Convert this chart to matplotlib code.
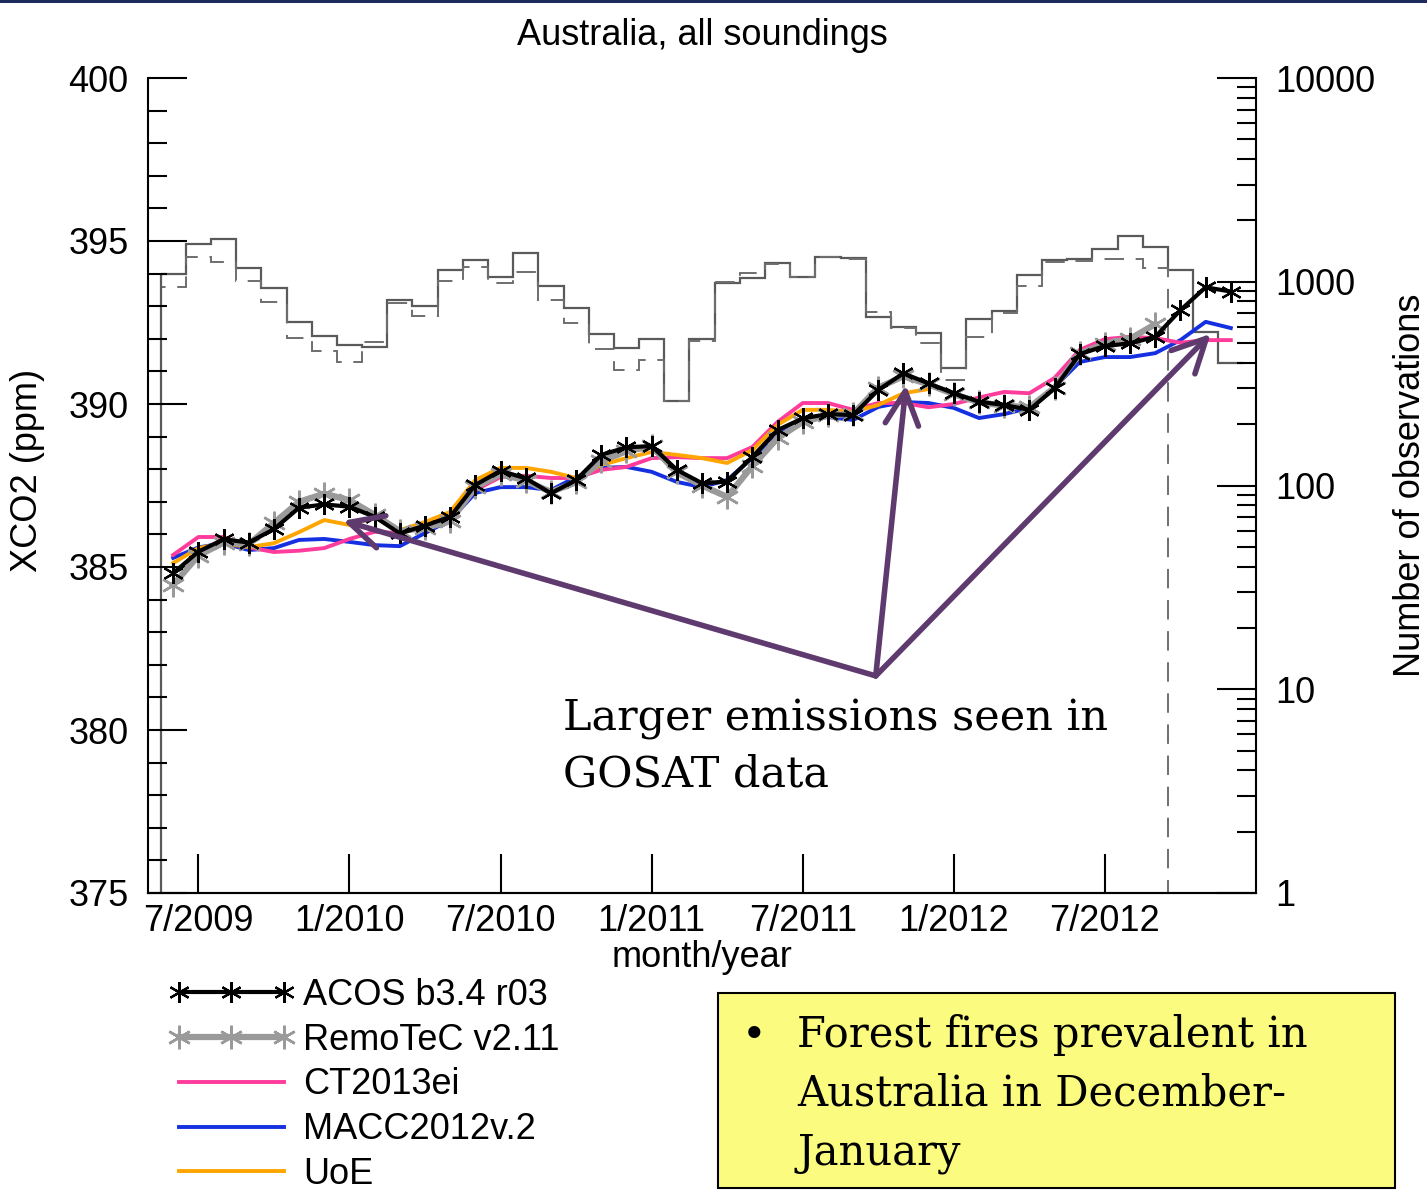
import matplotlib
matplotlib.use("Agg")
import matplotlib.pyplot as plt
from matplotlib.patches import Rectangle
from matplotlib.ticker import MultipleLocator, FixedLocator, FuncFormatter, LogLocator
import numpy as np

plt.rcParams['font.family'] = ['Liberation Sans', 'DejaVu Sans']

# months counted from Jan 2009 (6 = 7/2009)
months = np.arange(5, 48)

acos = [384.81, 385.47, 385.85, 385.75, 386.16, 386.82, 386.92, 386.85, 386.54, 386.03,
        386.27, 386.54, 387.52, 387.95, 387.72, 387.26, 387.67, 388.44, 388.67, 388.71,
        387.98, 387.57, 387.62, 388.38, 389.20, 389.56, 389.69, 389.66, 390.43, 390.94,
        390.63, 390.33, 390.07, 389.97, 389.82, 390.48, 391.53, 391.78, 391.86, 392.06,
        392.88, 393.58, 393.45]
remotec = [384.45, 385.35, 385.75, 385.70, 386.35, 387.00, 387.25, 387.05, 386.60, 386.10,
           386.20, 386.40, 387.45, 387.85, 387.65, 387.30, 387.60, 388.25, 388.55, 388.70,
           387.90, 387.50, 387.15, 388.10, 388.95, 389.45, 389.65, 389.70, 390.50, 390.85,
           390.60, 390.30, 390.05, 389.95, 389.90, 390.50, 391.55, 391.85, 392.00, 392.45]
ct2013 = [385.37, 385.92, 385.92, 385.60, 385.46, 385.50, 385.58, 385.86, 386.08, 386.04,
          386.35, 386.60, 387.36, 387.76, 387.80, 387.73, 387.73, 387.98, 388.07, 388.34,
          388.37, 388.34, 388.34, 388.68, 389.45, 390.03, 390.03, 389.82, 390.03, 390.03,
          389.90, 390.00, 390.20, 390.37, 390.33, 390.80, 391.66, 391.99, 392.06, 392.02,
          391.88, 391.96, 391.96]
macc = [385.28, 385.60, 385.73, 385.52, 385.58, 385.83, 385.86, 385.77, 385.67, 385.64,
        386.04, 386.44, 387.27, 387.45, 387.45, 387.36, 387.76, 388.04, 388.07, 387.92,
        387.61, 387.45, 387.67, 388.34, 389.05, 389.51, 389.60, 389.51, 389.91, 390.06,
        390.03, 389.88, 389.57, 389.69, 389.88, 390.52, 391.29, 391.44, 391.44, 391.56,
        391.96, 392.52, 392.33]
uoe = [385.12, 385.58, 385.73, 385.61, 385.73, 386.07, 386.44, 386.29, 386.53, 386.13,
       386.38, 386.69, 387.67, 388.04, 388.04, 387.92, 387.73, 388.13, 388.34, 388.53,
       388.44, 388.34, 388.19, 388.59, 389.36, 389.82, 389.82, 389.76, 389.97, 390.33,
       390.46]

# number of observations per month (right axis)
n_obs_solid = [1090, 1530, 1630, 1165, 935, 637, 542, 489, 477, 813,
               762, 1142, 1279, 1059, 1378, 953, 745, 552, 471, 524,
               260, 521, 988, 1040, 1233, 1059, 1327, 1312, 673, 601,
               562, 376, 653, 715, 1079, 1279, 1290, 1443, 1680, 1486,
               1142, 569, 397]
n_obs_dashed = [946, 1327, 1253, 1011, 792, 527, 457, 404, 508, 783,
                679, 1011, 1175, 982, 1119, 813, 629, 466, 369, 413,
                260, 510, 1000, 1110, 1222, 1058, 1327, 1295, 708, 595,
                498, 330, 534, 702, 953, 1253, 1270, 1295, 1300, 1165]

tick_months = [6, 12, 18, 24, 30, 36, 42]
tick_labels = ['7/2009', '1/2010', '7/2010', '1/2011', '7/2011', '1/2012', '7/2012']

W, H = 1427, 1192
fig = plt.figure(figsize=(W / 100, H / 100), dpi=100)
ax = fig.add_axes([148 / W, 1 - 893 / H, (1256 - 148) / W, (893 - 78) / H])
ax2 = ax.twinx()
ax.set_zorder(ax2.get_zorder() + 1)
ax.patch.set_visible(False)

# histograms of the number of observations
edges_s = np.append(months - 0.5, months[-1] + 0.5)
m_d = months[:len(n_obs_dashed)]
edges_d = np.append(m_d - 0.5, m_d[-1] + 0.5)
ax2.stairs(n_obs_solid, edges_s, baseline=None, color='#5a5a5a', lw=1.6)
ax2.vlines(edges_s[0], 1, n_obs_solid[0], color='#5a5a5a', lw=1.6)
ax2.stairs(n_obs_dashed, edges_d, baseline=1, color='#6e6e6e', lw=1.4,
           linestyle=(0, (10, 6)))
ax2.set_yscale('log')
ax2.set_ylim(1, 10000)

star = (6, 2, 0)
ax.plot(months, macc, color='#1530e0', lw=2.8, label='MACC2012v.2', zorder=2)
ax.plot(months, ct2013, color='#ff3c9c', lw=2.8, label='CT2013ei', zorder=2)
ax.plot(months[:len(uoe)], uoe, color='#ffa500', lw=2.8, label='UoE', zorder=2)
ax.plot(months[:len(remotec)], remotec, color='#9a9a9a', lw=4.5, marker=star, ms=17,
        mew=1.8, mec='#9a9a9a', label='RemoTeC v2.11', zorder=3)
ax.plot(months, acos, color='black', lw=3, marker=star, ms=15, mew=1.6,
        label='ACOS b3.4 r03', zorder=4)

ax.set_xlim(4, 48)
ax.set_ylim(375, 400)
ax.yaxis.set_major_locator(MultipleLocator(5))
ax.yaxis.set_minor_locator(MultipleLocator(1))
ax.xaxis.set_major_locator(FixedLocator(tick_months))
ax.set_xticklabels(tick_labels)

ax.tick_params(axis='both', which='both', direction='in', width=1.5, labelsize=26,
               top=False, right=False, color='black')
ax.tick_params(axis='y', which='major', length=28, pad=14)
ax.tick_params(axis='y', which='minor', length=14)
ax.tick_params(axis='x', which='major', length=28, pad=8)

ax2.yaxis.set_major_locator(LogLocator(base=10, numticks=10))
ax2.yaxis.set_minor_locator(LogLocator(base=10, subs=np.arange(2, 10), numticks=20))
ax2.yaxis.set_major_formatter(FuncFormatter(lambda v, _: f'{v:g}'))
ax2.tick_params(axis='y', which='both', direction='in', width=1.5, labelsize=26, pad=14)
ax2.tick_params(axis='y', which='major', length=28)
ax2.tick_params(axis='y', which='minor', length=14)

for a in (ax, ax2):
    a.spines['top'].set_visible(False)
    for s in ('left', 'right', 'bottom'):
        a.spines[s].set_linewidth(1.5)
ax2.spines['left'].set_visible(False)
ax.spines['right'].set_visible(False)

ax.set_title('Australia, all soundings', fontsize=26, pad=24)
ax.set_xlabel('month/year', fontsize=26)
ax.xaxis.set_label_coords(0.5, -0.058)
fig.text(28 / W, 1 - 470 / H, 'XCO2 (ppm)', rotation=90, fontsize=26,
         ha='center', va='center')
fig.text(1410 / W, 1 - 485 / H, 'Number of observations', rotation=90, fontsize=26,
         ha='center', va='center')

# legend below the plot
handles, labels = ax.get_legend_handles_labels()
order = [4, 3, 1, 0, 2]
fig.legend([handles[i] for i in order], [labels[i] for i in order],
           loc='upper left', bbox_to_anchor=(168 / W, 1 - 978 / H), frameon=False,
           fontsize=26, handlelength=3.5, handletextpad=0.25, labelspacing=0.27,
           borderpad=0, borderaxespad=0, numpoints=3)

# annotation arrows
purple = '#5e3a6e'
tail = (32.9, 381.66)
for head in [(11.75, 386.42), (34.1, 390.58), (46.2, 392.15)]:
    ax.annotate('', xy=head, xytext=tail,
                arrowprops=dict(arrowstyle='->,head_length=1.2,head_width=0.6',
                                color=purple, lw=4, mutation_scale=20,
                                shrinkA=0, shrinkB=0),
                zorder=6)

fig.text(563 / W, 1 - 698 / H, 'Larger emissions seen in\nGOSAT data',
         family='DejaVu Serif', fontsize=31, ha='left', va='top', linespacing=1.42)

# yellow note box
fig.add_artist(Rectangle((718 / W, 1 - 1188 / H), (1395 - 718) / W, (1188 - 993) / H,
                         transform=fig.transFigure, facecolor='#fbfb80',
                         edgecolor='black', lw=1.5))
fig.text(742 / W, 1 - 1036 / H, '\u2022', family='DejaVu Serif', fontsize=30,
         ha='left', va='center')
fig.text(797 / W, 1 - 1014 / H, 'Forest fires prevalent in\nAustralia in December-\nJanuary',
         family='DejaVu Serif', fontsize=30, ha='left', va='top', linespacing=1.5)

# dark band of the slide at the very top
fig.add_artist(Rectangle((0, 1 - 3 / H), 1, 3 / H, transform=fig.transFigure,
                         facecolor='#1c2a5c', edgecolor='none'))

fig.savefig('out.png', dpi=100)
